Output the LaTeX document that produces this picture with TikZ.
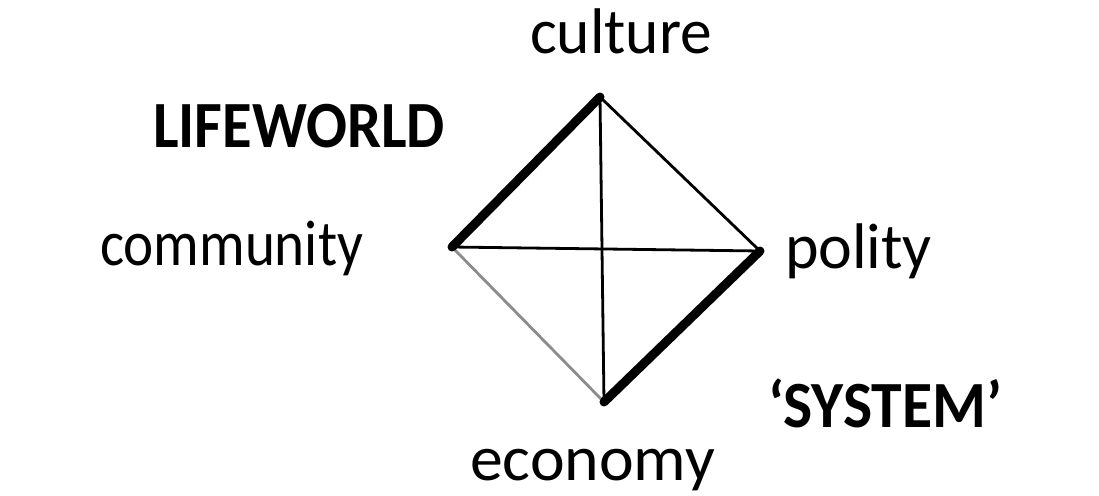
\documentclass[tikz,border=0pt]{standalone}
\usepackage{fontspec}
\setmainfont{Carlito}
\usepackage{graphicx}
\tikzset{
  lbl/.style={anchor=base west, inner sep=0pt, outer sep=0pt},
  thickedge/.style={line width=9pt, line cap=round, black},
  thinedge/.style={line width=2.8pt, black},
  grayedge/.style={line width=2.8pt, black!45},
}
\newcommand{\reglbl}[2]{\resizebox{#1}{\height}{\fontsize{64.5}{70}\selectfont #2}}
\newcommand{\boldlbl}[2]{\resizebox{#1}{\height}{\fontsize{66}{72}\selectfont\bfseries #2}}
\begin{document}
\begin{tikzpicture}[x=1pt,y=-1pt]
\useasboundingbox (0,0) rectangle (1099,495);
\coordinate (T) at (600,97);
\coordinate (L) at (452,247);
\coordinate (R) at (760,251);
\coordinate (B) at (604,402);
\draw[thinedge] (L) -- (R);
\draw[thinedge] (T) -- (B);
\draw[thinedge] (T) -- (R);
\draw[grayedge] (L) -- (B);
\draw[thickedge] (L) -- (T);
\draw[thickedge] (R) -- (B);
\node[lbl] (culture) at (530,53) {\reglbl{182pt}{culture}};
\node[lbl] (community) at (100,265) {\reglbl{263pt}{community}};
\node[lbl] (polity) at (785,268) {\reglbl{147pt}{polity}};
\node[lbl] (economy) at (470,480) {\reglbl{245pt}{economy}};
\node[lbl] (lifeworld) at (153,147) {\boldlbl{292pt}{LIFEWORLD}};
\node[lbl] (system) at (768,427) {\boldlbl{234pt}{‘SYSTEM’}};
\end{tikzpicture}
\end{document}
